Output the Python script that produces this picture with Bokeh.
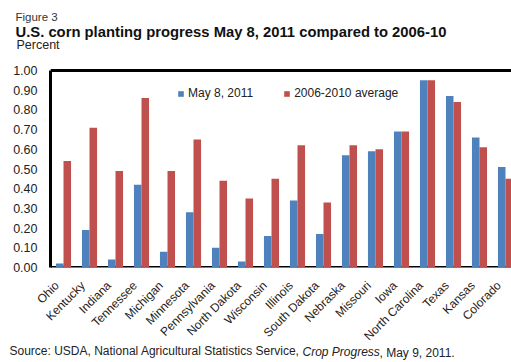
from math import pi
from bokeh.plotting import figure
from bokeh.models import (Range1d, FixedTicker, Span, Legend, Title,
                          LegendItem, NumeralTickFormatter, ColumnDataSource)
from bokeh.transform import dodge
from bokeh.embed import file_html
from bokeh.resources import INLINE

# ---------------- data ----------------
states = ["Ohio", "Kentucky", "Indiana", "Tennessee", "Michigan", "Minnesota",
          "Pennsylvania", "North Dakota", "Wisconsin", "Illinois", "South Dakota",
          "Nebraska", "Missouri", "Iowa", "North Carolina", "Texas", "Kansas", "Colorado"]
may8_2011 = [0.02, 0.19, 0.04, 0.42, 0.08, 0.28, 0.10, 0.03, 0.16, 0.34, 0.17,
             0.57, 0.59, 0.69, 0.95, 0.87, 0.66, 0.51]
avg_2006_2010 = [0.54, 0.71, 0.49, 0.86, 0.49, 0.65, 0.44, 0.35, 0.45, 0.62, 0.33,
                 0.62, 0.60, 0.69, 0.95, 0.84, 0.61, 0.45]
y_ticks = [0.0, 0.1, 0.2, 0.3, 0.4, 0.5, 0.6, 0.7, 0.8, 0.9, 1.0]
series_names = ["May 8, 2011", "2006-2010 average"]
series_colors = ["#4F81BD", "#C0504D"]

# ---------------- layout constants ----------------
W, H = 511, 362
FRAME_LEFT = 50
FRAME_TOP = 52          # frame reaches up to the "Percent" line
PLOT_TOP = 70           # pixel row of the value 1.0 (heavy top border)
FRAME_BOTTOM = 267      # pixel row of the value 0.0
CELL = 26               # pixels per category
FONT = "Liberation Sans"
LABEL_SHIFT = 0.25      # category labels sit a little left of the bar pair

x_start = -0.5
x_end = x_start + (W - FRAME_LEFT) / CELL
y_end = (FRAME_BOTTOM - FRAME_TOP) / (FRAME_BOTTOM - PLOT_TOP)

src = ColumnDataSource(dict(x=list(range(len(states))), a=may8_2011, b=avg_2006_2010))

p = figure(width=W, height=H, x_range=Range1d(x_start, x_end), y_range=Range1d(0, y_end),
           toolbar_location=None, output_backend="svg",
           min_border_left=FRAME_LEFT, min_border_right=0,
           min_border_top=FRAME_TOP, min_border_bottom=H - FRAME_BOTTOM)
p.title.text = ""
p.outline_line_color = None
p.xgrid.visible = False
p.ygrid.visible = False
p.background_fill_color = "white"
p.border_fill_color = "white"

# baseline behind the bars and heavy top border at 1.0
p.add_layout(Span(location=0, dimension="width", line_color="black",
                  line_width=3, level="underlay"))
p.add_layout(Span(location=1, dimension="width", line_color="black",
                  line_width=3, level="overlay"))

bw = 0.29
r1 = p.vbar(x=dodge("x", -bw / 2, range=p.x_range), top="a", width=bw, bottom=0,
            source=src, fill_color=series_colors[0], line_color=None)
r2 = p.vbar(x=dodge("x", bw / 2, range=p.x_range), top="b", width=bw, bottom=0,
            source=src, fill_color=series_colors[1], line_color=None)

# y axis
ya = p.yaxis[0]
ya.ticker = FixedTicker(ticks=y_ticks)
ya.formatter = NumeralTickFormatter(format="0.00")
ya.bounds = (0, 1)
ya.axis_line_width = 3
ya.axis_line_color = "black"
ya.major_tick_line_color = None
ya.minor_tick_line_color = None
ya.major_label_text_font = FONT
ya.major_label_text_font_size = "12.5px"
ya.major_label_text_color = "#222222"
ya.major_label_standoff = 7

# x axis
label_pos = [i - LABEL_SHIFT for i in range(len(states))]
xa = p.xaxis[0]
xa.ticker = FixedTicker(ticks=label_pos)
xa.major_label_overrides = {t: s for t, s in zip(label_pos, states)}
xa.major_label_orientation = pi / 4
xa.axis_line_color = None
xa.major_tick_line_color = None
xa.minor_tick_line_color = None
xa.major_tick_out = 0
xa.major_label_text_font = FONT
xa.major_label_text_font_size = "12px"
xa.major_label_text_color = "#222222"
xa.major_label_standoff = 16

legend = Legend(items=[LegendItem(label=series_names[0], renderers=[r1]),
                       LegendItem(label=series_names[1], renderers=[r2])],
                orientation="horizontal", location=(127, 167),
                glyph_width=7, glyph_height=7, label_height=12, label_standoff=4,
                label_text_font=FONT, label_text_font_size="12px",
                label_text_color="#222222", spacing=30, padding=0, margin=0,
                border_line_color=None, background_fill_alpha=0)
p.add_layout(legend)

# texts above the plot (first added sits closest to the frame)
p.add_layout(Title(text="Percent", align="left", offset=16 - FRAME_LEFT, standoff=0.7,
                   text_font=FONT, text_font_size="12.5px", text_font_style="normal",
                   text_color="#222222"), "above")
p.add_layout(Title(text="U.S. corn planting progress May 8, 2011 compared to 2006-10",
                   align="left", offset=15 - FRAME_LEFT, standoff=-9.6,
                   text_font=FONT, text_font_size="14.8px", text_font_style="bold",
                   text_color="#111111"), "above")
p.add_layout(Title(text="Figure 3", align="left", offset=15 - FRAME_LEFT, standoff=8.2,
                   text_font=FONT, text_font_size="11.5px", text_font_style="normal",
                   text_color="#333333"), "above")

# source line below the category labels: three zero-height slots on one line
SRC_SIZE = 12
src_standoff = -(2 + 1.117 * SRC_SIZE) + 0.3
source_parts = [("Source: USDA, National Agricultural Statistics Service, ", 9, "normal"),
                ("Crop Progress", 302, "italic"),
                (",  May 9, 2011.", 379, "normal")]
for text, px, style in source_parts:
    p.add_layout(Title(text=text, align="left", vertical_align="top",
                       offset=px - FRAME_LEFT, standoff=src_standoff,
                       text_font=FONT, text_font_size=f"{SRC_SIZE}px", text_font_style=style,
                       text_color="#222222"), "below")

open("out.html", "w").write(file_html(p, INLINE))
